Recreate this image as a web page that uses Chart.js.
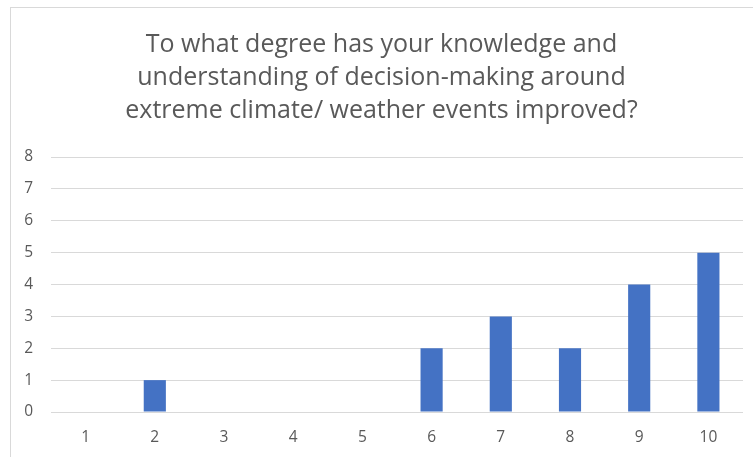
<!DOCTYPE html>
<html>
<head>
<meta charset="utf-8">
<script src="https://cdn.jsdelivr.net/npm/chart.js@4.4.1/dist/chart.umd.min.js"></script>
<style>
  html, body { margin: 0; padding: 0; background: #fff; }
  #wrap { position: relative; width: 753px; height: 457px; overflow: hidden; }
  #frame { position: absolute; left: 10px; top: 7px; width: 800px; height: 500px; border: 1px solid #d9d9d9; }
  #c { position: absolute; left: 0; top: 0; }
</style>
</head>
<body>
<div id="wrap">
  <div id="frame"></div>
  <canvas id="c" width="753" height="457"></canvas>
</div>
<script>
const titleLines = [
  'To what degree has your knowledge and',
  'understanding of decision-making around',
  'extreme climate/ weather events improved?'
];
const categories = ['1', '2', '3', '4', '5', '6', '7', '8', '9', '10'];
const counts = [0, 1, 0, 0, 0, 2, 3, 2, 4, 5];
const yTicks = [0, 1, 2, 3, 4, 5, 6, 7, 8];

const grey = '#595959';
const fontFam = "'Open Sans', sans-serif";

new Chart(document.getElementById('c'), {
  type: 'bar',
  data: {
    labels: categories,
    datasets: [{
      label: 'Count',
      data: counts,
      backgroundColor: '#4472c4',
      borderWidth: 0,
      barPercentage: 0.32,
      categoryPercentage: 1
    }]
  },
  options: {
    responsive: false,
    animation: false,
    // left padding nudges the title centre right; y axis keeps room for its labels
    layout: { padding: { left: 20, right: 10, top: 0, bottom: 0 } },
    scales: {
      x: {
        grid: { display: false, drawTicks: false },
        border: { display: false },
        ticks: { color: grey, font: { family: fontFam, size: 15.5 }, padding: 16 },
        afterFit: (s) => { s.height = 45; }
      },
      y: {
        min: 0, max: 8,
        afterBuildTicks: (s) => { s.ticks = yTicks.map(v => ({ value: v })); },
        grid: { color: '#d9d9d9', lineWidth: 1, drawTicks: false },
        border: { display: false },
        ticks: { color: grey, font: { family: fontFam, size: 15.5 }, padding: 18 },
        afterFit: (s) => { s.width = 31; }
      }
    },
    plugins: {
      legend: { display: false },
      tooltip: { enabled: false },
      title: {
        display: true,
        text: titleLines,
        color: grey,
        font: { family: fontFam, size: 25, weight: 'normal', lineHeight: 1.32 },
        padding: { top: 28, bottom: 30 }
      }
    }
  }
});
</script>
</body>
</html>
